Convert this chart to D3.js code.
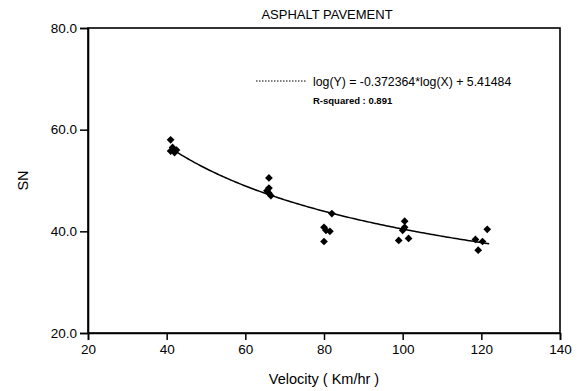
<!DOCTYPE html>
<html>
<head>
<meta charset="utf-8">
<script src="https://cdn.jsdelivr.net/npm/d3@7"></script>
<style>
  body { margin: 0; background: #fff; }
  text { font-family: "Liberation Sans", Arial, sans-serif; fill: #000; }
</style>
</head>
<body>
<div id="chart"></div>
<script>
// measured SN values per velocity
const velocity = [41, 41, 41.5, 42, 42.5, 65.5, 66, 66, 66.5, 66, 80, 80.5, 81.5, 82, 80, 99, 100, 100.5, 100.5, 101.5, 118.5, 119.2, 120.3, 121.5];
const sn       = [58, 55.8, 56.5, 55.5, 56, 48, 50.5, 47.5, 47, 48.5, 40.8, 40.2, 40, 43.5, 38, 38.2, 40.2, 42, 40.8, 38.6, 38.4, 36.3, 38, 40.4];
const xTicks = [20, 40, 60, 80, 100, 120, 140];
const yTicks = [20, 40, 60, 80];
// regression shown in the legend: log(Y) = a*log(X) + b
const fitA = -0.372364;
const fitB = 5.41484;
const fitRange = [41, 122];

const width = 583, height = 391;
const margin = {left: 88, right: 23, top: 28, bottom: 58};

const svg = d3.select("#chart").append("svg")
    .attr("width", width)
    .attr("height", height);

const x = d3.scaleLinear().domain([20, 140]).range([margin.left, width - margin.right]);
const y = d3.scaleLinear().domain([20, 80]).range([height - margin.bottom, margin.top]);

// frame
svg.append("rect")
    .attr("x", x(20)).attr("y", y(80))
    .attr("width", x(140) - x(20)).attr("height", y(20) - y(80))
    .attr("fill", "none").attr("stroke", "#000").attr("stroke-width", 1.6);

const xAxis = svg.append("g")
    .attr("transform", `translate(0,${y(20)})`)
    .call(d3.axisBottom(x).tickValues(xTicks).tickSize(7).tickPadding(4).tickFormat(d3.format("d")));
const yAxis = svg.append("g")
    .attr("transform", `translate(${x(20)},0)`)
    .call(d3.axisLeft(y).tickValues(yTicks).tickSize(8).tickPadding(3).tickFormat(d3.format(".1f")));

[xAxis, yAxis].forEach(g => {
    g.select(".domain").attr("stroke-width", 1.6);
    g.selectAll(".tick line").attr("stroke-width", 1.5);
    g.selectAll("text").style("font-size", "13.5px").style("font-family", "'Liberation Sans', Arial, sans-serif");
});

// fitted curve
const fitPts = d3.range(fitRange[0], fitRange[1] + 0.5, 0.5).map(v => [v, Math.exp(fitA * Math.log(v) + fitB)]);
svg.append("path")
    .datum(fitPts)
    .attr("fill", "none")
    .attr("stroke", "#000")
    .attr("stroke-width", 1.5)
    .attr("d", d3.line().x(d => x(d[0])).y(d => y(d[1])));

// points (square turned 45 deg = even diamond)
svg.selectAll(".pt")
    .data(velocity.map((v, i) => [v, sn[i]]))
    .enter()
    .append("path")
    .attr("class", "pt")
    .attr("transform", d => `translate(${x(d[0])},${y(d[1])}) rotate(45)`)
    .attr("d", d3.symbol().type(d3.symbolSquare).size(30))
    .attr("fill", "#000");

// legend
svg.append("line")
    .attr("x1", 256).attr("x2", 307).attr("y1", 81).attr("y2", 81)
    .attr("stroke", "#000").attr("stroke-width", 1).attr("stroke-dasharray", "1.5,1.5");
svg.append("text")
    .attr("x", 313).attr("y", 85.5)
    .style("font-size", "12.3px")
    .text("log(Y) = -0.372364*log(X) + 5.41484");
svg.append("text")
    .attr("x", 313).attr("y", 104)
    .style("font-size", "9.5px")
    .style("font-weight", "bold")
    .text("R-squared : 0.891");

// titles
svg.append("text")
    .attr("x", 327).attr("y", 19)
    .attr("text-anchor", "middle")
    .style("font-size", "13px")
    .text("ASPHALT PAVEMENT");
svg.append("text")
    .attr("x", 324).attr("y", 384)
    .attr("text-anchor", "middle")
    .style("font-size", "14.5px")
    .text("Velocity ( Km/hr )");
svg.append("text")
    .attr("transform", `translate(28,${(y(20) + y(80)) / 2}) rotate(-90)`)
    .attr("text-anchor", "middle")
    .style("font-size", "14.5px")
    .text("SN");
</script>
</body>
</html>
